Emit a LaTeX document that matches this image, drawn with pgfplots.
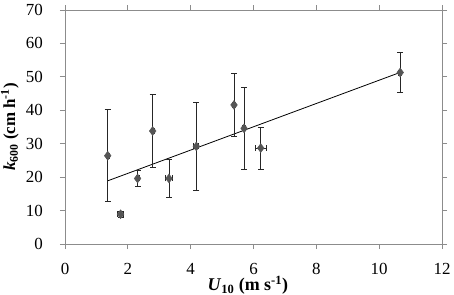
\documentclass[border=0pt]{standalone}
\usepackage{pgfplots}
\pgfplotsset{compat=1.18}
\usepackage{fontspec}
\setmainfont{Liberation Serif}
\definecolor{axgray}{HTML}{8C8C8C}
\definecolor{mkgray}{HTML}{555555}
\begin{document}
\begin{tikzpicture}
\useasboundingbox (0,0) rectangle (454bp,295bp);
\begin{axis}[
  at={(65bp,51bp)}, anchor=south west,
  scale only axis, width=377bp, height=234bp,
  xmin=0, xmax=12, ymin=0, ymax=70,
  xtick={0,2,...,12}, ytick={0,10,...,70},
  tick align=outside, major tick length=5bp,
  axis line style={axgray, line width=0.8pt},
  tick style={axgray, line width=0.8pt},
  every tick label/.style={font=\fontsize{17}{19}\selectfont},
  /pgf/number format/assume math mode=true,
  xticklabel style={anchor=center, inner sep=0pt, yshift=-19.5bp},
  yticklabel style={anchor=east, inner sep=0pt, xshift=-17bp},
  xlabel={\textbf{\textit{U}\textsubscript{10} (m s\textsuperscript{-1})}},
  ylabel={\textbf{\textit{k}\textsubscript{600} (cm h\textsuperscript{-1})}},
  label style={font=\fontsize{17}{19}\selectfont},
  xlabel style={at={(axis description cs:0.485,-0.176)}, anchor=center, inner sep=0pt, font=\fontsize{18}{20}\selectfont},
  ylabel style={at={(axis description cs:-0.146,0.5)}, anchor=center},
  clip=false,
]
\addplot[black, line width=0.8pt] coordinates {(1.36,18.9) (10.66,51.3)};
\addplot[only marks, mark=diamond*, mark size=4.5pt,
  mark options={fill=mkgray, draw=mkgray},
  error bars/.cd, y dir=both, y explicit, x dir=both, x explicit,
  error bar style={black!85, line width=0.8pt},
  error mark options={rotate=90, mark size=3bp, black!85, line width=0.8pt}]
coordinates {
(1.36,26.4) +- (0.05,13.8)
(1.77,8.9) +- (0.1,0.8)
(2.31,19.6) +- (0.05,2.3)
(2.79,33.8) +- (0.05,10.9)
(3.31,19.6) +- (0.12,5.7)
(4.18,29.2) +- (0.08,13.1)
(5.38,41.6) +- (0.05,9.3)
(5.70,34.6) +- (0.05,12.2)
(6.23,28.7) +- (0.18,6.3)
(10.67,51.3) +- (0.05,6.0)
};
\end{axis}
\end{tikzpicture}
\end{document}
